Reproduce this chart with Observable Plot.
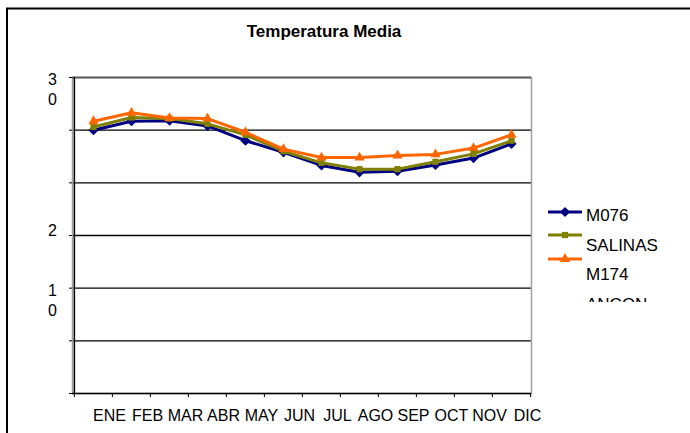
<!DOCTYPE html>
<html>
<head>
<meta charset="utf-8">
<script src="https://cdn.jsdelivr.net/npm/d3@7"></script>
<script src="https://cdn.jsdelivr.net/npm/@observablehq/plot@0.6"></script>
<style>
html,body{margin:0;padding:0;background:#fff;overflow:hidden;}
#chart svg{display:block;}
</style>
</head>
<body>
<div id="chart"></div>
<script>
// ---- data ----
const months = ["ENE","FEB","MAR","ABR","MAY","JUN","JUL","AGO","SEP","OCT","NOV","DIC"];
const m076    = [25.0, 25.85, 25.9, 25.4, 24.0, 22.9, 21.65, 21.0, 21.1, 21.7, 22.35, 23.7];
const salinas = [25.3, 26.2, 26.1, 25.6, 24.55, 23.0, 21.9, 21.3, 21.3, 22.0, 22.75, 24.0];
const m174    = [25.85, 26.65, 26.15, 26.1, 24.8, 23.2, 22.4, 22.4, 22.6, 22.7, 23.3, 24.55];
const seriesNames = ["M076", "SALINAS", "M174 ANCON"];
const yTicks = [0, 5, 10, 15, 20, 25, 30];
const gridValues = [5, 10, 15, 20, 25];
const yLabelValues = [30, 10];
const yLabelTexts = ["3\n0", "1\n0"];
const yLabelValues2 = [15];
const yLabelTexts2 = ["2"];
const titleText = "Temperatura Media";

// ---- styles ----
const seriesValues = [m076, salinas, m174];
const seriesColors = ["#000080", "#808000", "#ff6600"];
const seriesSymbols = ["diamond2", "square", "triangle"];
const seriesR = [4.6, 3.5, 3.8];

const W = 690, H = 433, ML = 72, MR = 159, MT = 77, MB = 40;
const bw = (W - ML - MR) / months.length;

const marks = [
  Plot.ruleY(gridValues, {stroke: "#000", strokeWidth: 1.4}),
  Plot.frame({stroke: "#a0a0a0", strokeWidth: 1.5}),
  Plot.ruleY([30], {stroke: "#606060", strokeWidth: 2}),
  Plot.ruleY([0], {stroke: "#000", strokeWidth: 1.5}),
  Plot.ruleX([months[0]], {dx: -bw / 2, stroke: "#000", strokeWidth: 1.5}),
  Plot.axisY(yTicks, {tickSize: 3, fill: "none", stroke: "#000", label: null}),
  Plot.text(yLabelValues, {y: d => d, text: (d, i) => yLabelTexts[i], frameAnchor: "left", dx: -20,
    textAnchor: "middle", lineAnchor: "top", lineHeight: 1.25, dy: -6.5, fontSize: 16, fill: "#000"}),
  Plot.text(yLabelValues2, {y: d => d, text: (d, i) => yLabelTexts2[i], frameAnchor: "left", dx: -20,
    textAnchor: "middle", lineAnchor: "top", dy: -10.5, fontSize: 16, fill: "#000"}),
  Plot.axisX({tickSize: 4, fill: "none", stroke: "#000", dx: -bw / 2, label: null}),
  Plot.axisX([months[months.length - 1]], {tickSize: 4, fill: "none", stroke: "#000", dx: bw / 2, label: null}),
  Plot.axisX({tickSize: 0, tickPadding: 16.3, fontSize: 16, dx: 16, fill: "#000", label: null})
];

seriesValues.forEach((vals, s) => {
  const rows = months.map((m, i) => ({month: m, value: vals[i], series: seriesNames[s]}));
  marks.push(Plot.line(rows, {x: "month", y: "value", stroke: seriesColors[s], strokeWidth: 3}));
  marks.push(Plot.dot(rows, {x: "month", y: "value", symbol: seriesSymbols[s], r: seriesR[s],
    fill: seriesColors[s], stroke: "none"}));
});

const chart = Plot.plot({
  width: W, height: H,
  marginLeft: ML, marginRight: MR, marginTop: MT, marginBottom: MB,
  style: {fontFamily: "Liberation Sans, Arial, sans-serif", fontSize: "16px", color: "#000", background: "#fff", overflow: "hidden"},
  x: {type: "band", domain: months, padding: 0},
  y: {domain: [0, 30]},
  marks
});
document.getElementById("chart").appendChild(chart);

// ---- decorations: outer frame, title, legend ----
const svg = d3.select(chart);
svg.append("rect").attr("x", 7).attr("y", 8.5).attr("width", 720).attr("height", 460)
  .attr("fill", "none").attr("stroke", "#000").attr("stroke-width", 2);

svg.append("text").attr("x", 324).attr("y", 37).attr("text-anchor", "middle")
  .attr("font-weight", "bold").attr("font-size", 17).attr("fill", "#000").text(titleText);

const defs = svg.append("defs");
defs.append("clipPath").attr("id", "legclip").append("rect")
  .attr("x", 540).attr("y", 190).attr("width", 150).attr("height", 112);
const leg = svg.append("g").attr("clip-path", "url(#legclip)").attr("text-anchor", "start");
const lineYs = [212, 235, 259];
const textYs = [221, 251, 280];
seriesNames.forEach((name, i) => {
  leg.append("line").attr("x1", 548).attr("x2", 582).attr("y1", lineYs[i]).attr("y2", lineYs[i])
    .attr("stroke", seriesColors[i]).attr("stroke-width", 3);
  const symType = [d3.symbolDiamond2, d3.symbolSquare, d3.symbolTriangle][i];
  leg.append("path").attr("d", d3.symbol(symType, Math.PI * seriesR[i] * seriesR[i])())
    .attr("transform", `translate(565,${lineYs[i]})`).attr("fill", seriesColors[i]);
  const words = name.split(" ");
  const t = leg.append("text").attr("x", 586).attr("y", textYs[i]).attr("font-size", 17)
    .attr("text-anchor", "start").attr("fill", "#000");
  words.forEach((w, j) => {
    t.append("tspan").attr("x", 586).attr("dy", j === 0 ? 0 : 30).text(w);
  });
});
</script>
</body>
</html>
